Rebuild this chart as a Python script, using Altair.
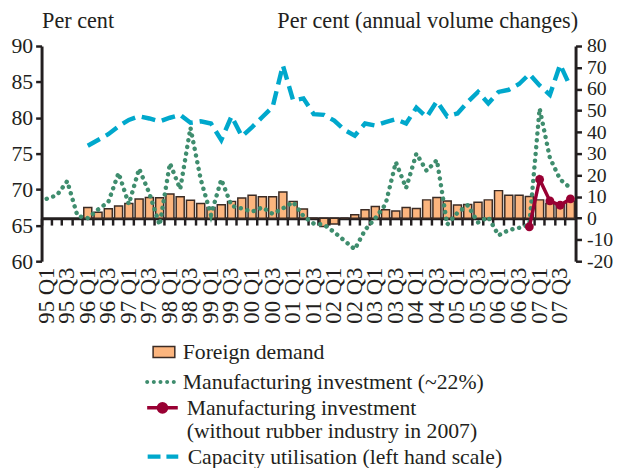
import json
import altair as alt
import pandas as pd

# ---------------- data ----------------
years = ["95", "96", "97", "98", "99", "00", "01", "02", "03", "04", "05", "06", "07"]
quarters = [f"{y} Q{q}" for y in years for q in (1, 2, 3, 4)]
shown_labels = quarters[::2]

# Foreign demand, annual volume change (%), 96 Q1 .. 07 Q4
foreign_demand = [None] * 4 + [
    5.0, 2.8, 4.4, 5.6, 6.8, 8.9, 9.6, 9.5, 11.2, 10.0, 8.3, 6.8,
    5.0, 6.2, 7.8, 9.4, 10.6, 10.0, 10.0, 12.2, 7.8, 4.3, 0.0, -3.9,
    -2.7, 0.0, 1.6, 3.9, 5.4, 3.9, 3.3, 5.0, 4.5, 8.5, 9.6, 8.0,
    6.1, 6.3, 7.4, 8.5, 12.8, 10.6, 10.6, 10.1, 8.5, 6.8, 6.5, 8.0,
]

# Manufacturing investment (~22%), 95 Q1 .. 07 Q4
manufacturing_investment = [
    9.0, 10.7, 17.2, 1.0, 0.0, 4.0, 7.5, 21.0, 6.5, 23.0, 11.5, -3.2,
    25.5, 13.5, 42.0, 18.0, 1.5, 18.0, 5.7, 4.5, 3.0, 5.0, 2.0, 4.5,
    7.5, 1.0, -2.5, -3.0, -6.5, -10.5, -14.5, -5.5, 0.0, 6.5, 26.0, 14.0,
    30.0, 22.0, 27.0, -3.0, 2.5, 6.0, -2.0, 0.5, -8.0, -5.5, -4.5, -3.0,
    51.0, 28.0, 18.0, 14.0,
]

# Manufacturing investment without rubber industry, 06 Q4 .. 07 Q4
investment_ex_rubber = [None] * 47 + [-4.0, 18.0, 8.0, 6.0, 9.0]

# Capacity utilisation (left hand scale), 96 Q1 .. 07 Q4
capacity_utilisation = [None] * 4 + [
    76.1, 76.9, 77.7, 78.8, 79.7, 80.2, 79.9, 79.5, 80.0, 80.4, 79.3, 79.5,
    79.2, 76.9, 80.2, 77.4, 78.7, 80.1, 81.5, 87.3, 82.4, 82.7, 80.5, 80.4,
    79.6, 78.3, 77.5, 79.2, 78.9, 79.4, 79.8, 79.2, 81.4, 80.1, 82.3, 80.2,
    80.6, 82.2, 83.6, 82.0, 83.6, 83.9, 84.7, 86.1, 84.5, 83.2, 87.4, 84.3,
]

left_ticks = [60, 65, 70, 75, 80, 85, 90]
right_ticks = [-20, -10, 0, 10, 20, 30, 40, 50, 60, 70, 80]

S_BAR = "Foreign demand"
S_DOT = "Manufacturing investment (~22%)"
S_RED = "Manufacturing investment (without rubber industry in 2007)"
S_BLUE = "Capacity utilisation (left hand scale)"

df = pd.DataFrame({
    "quarter": quarters,
    "demand": foreign_demand,
    "invest": manufacturing_investment,
    "invest_ex": investment_ex_rubber,
    "capacity": capacity_utilisation,
})

# ---------------- style ----------------
FONT = "Liberation Serif"
INK = "#231f20"
BAR_FILL = "#fcb57e"
BAR_EDGE = "#3b2b24"
GREEN = "#3f8d6e"
RED = "#990033"
BLUE = "#00a8cc"

W, H = 541, 218
ZERO_OFFSET = -H * 20 / 100  # zero of the right scale (-20..80)


def dots_path(centers, r):
    parts = []
    for c in centers:
        parts.append(f"M{c - r:.3f},0a{r},{r} 0 1,0 {2 * r},0a{r},{r} 0 1,0 {-2 * r},0Z")
    return "".join(parts)


legend_common = dict(
    orient="none", title=None, labelFont=FONT, labelFontSize=22,
    labelColor=INK, labelLimit=600,
)

x_zero = alt.X(
    "quarter:N", sort=quarters,
    scale=alt.Scale(paddingInner=0, paddingOuter=0),
    axis=alt.Axis(
        orient="bottom", offset=ZERO_OFFSET, labels=False, title=None,
        domain=True, domainColor=INK, domainWidth=3,
        ticks=True, bandPosition=0, tickSize=7, tickWidth=2.5, tickColor=INK,
        grid=False,
    ),
)

right_scale = alt.Scale(domain=[-20, 80], nice=False, zero=False)
right_axis = alt.Axis(
    orient="right", values=right_ticks, title="Per cent (annual volume changes)",
    titleAngle=0, titleAlign="right", titleBaseline="alphabetic",
    titleX=2, titleY=-19, titleFont=FONT, titleFontSize=22.5,
    titleFontWeight="normal", titleColor=INK,
    labelFont=FONT, labelFontSize=20, labelColor=INK, labelPadding=5,
    labelOverlap=False, labelBound=False, labelExpr="toString(datum.value)",
    tickSize=6, tickWidth=2.5, tickColor=INK,
    domainColor=INK, domainWidth=3, grid=False,
)


def series(name):
    return {"series": json.dumps(name)}


base = alt.Chart(df)

bars = base.mark_bar(
    width=alt.RelativeBandSize(0.78), stroke=BAR_EDGE, strokeWidth=1.5
).encode(
    x=x_zero,
    y=alt.Y("demand:Q", scale=right_scale, axis=right_axis),
    color=alt.Color(
        "series:N", scale=alt.Scale(domain=[S_BAR], range=[BAR_FILL]),
        legend=alt.Legend(
            legendX=112, legendY=298, symbolType="M-1,-0.5L1,-0.5L1,0.5L-1,0.5Z",
            symbolSize=484, symbolStrokeColor=BAR_EDGE, symbolStrokeWidth=1.5,
            symbolFillColor=BAR_FILL, labelOffset=7, **legend_common,
        ),
    ),
).transform_filter("isValid(datum.demand)").transform_calculate(**series(S_BAR))

green = base.mark_line(
    strokeDash=[0.1, 6.8], strokeCap="round", strokeWidth=4.5
).encode(
    x=x_zero,
    y=alt.Y("invest:Q", scale=right_scale, axis=right_axis),
    color=alt.Color(
        "series:N", scale=alt.Scale(domain=[S_DOT], range=[GREEN]),
        legend=alt.Legend(
            legendX=105, legendY=325, symbolType=dots_path([-0.87, -0.435, 0, 0.435, 0.87], 0.13),
            symbolSize=961, symbolFillColor=GREEN, symbolStrokeWidth=0,
            labelOffset=7, **legend_common,
        ),
    ),
).transform_calculate(**series(S_DOT))

red = base.mark_line(
    strokeWidth=3.5, point=alt.OverlayMarkDef(filled=True, size=80)
).encode(
    x=x_zero,
    y=alt.Y("invest_ex:Q", scale=right_scale, axis=right_axis),
    color=alt.Color(
        "series:N", scale=alt.Scale(domain=[S_RED], range=[RED]),
        legend=alt.Legend(
            legendX=105, legendY=349,
            symbolType="M-1,0L1,0M0.27,0A0.27,0.27 0 1,1 -0.27,0A0.27,0.27 0 1,1 0.27,0Z",
            symbolSize=961, symbolFillColor=RED, symbolStrokeColor=RED,
            symbolStrokeWidth=3.5, labelOffset=7,
            labelExpr="[slice(datum.label, 0, 24), slice(datum.label, 25)]",
            **legend_common,
        ),
    ),
).transform_filter("isValid(datum.invest_ex)").transform_calculate(**series(S_RED))

blue = base.mark_line(
    strokeDash=[14, 7], strokeWidth=4.5
).encode(
    x=alt.X(
        "quarter:N", sort=quarters,
        scale=alt.Scale(paddingInner=0, paddingOuter=0),
        axis=alt.Axis(
            orient="bottom", values=shown_labels, labelAngle=-90, title=None,
            labelFont=FONT, labelFontSize=23, labelColor=INK, labelPadding=6,
            labelOverlap=False, ticks=False, tickSize=0, domain=False, grid=False,
        ),
    ),
    y=alt.Y(
        "capacity:Q",
        scale=alt.Scale(domain=[60, 90], nice=False, zero=False),
        axis=alt.Axis(
            orient="left", values=left_ticks, title="Per cent",
            titleAngle=0, titleAlign="left", titleBaseline="alphabetic",
            titleX=0, titleY=-19, titleFont=FONT, titleFontSize=22.5,
            titleFontWeight="normal", titleColor=INK,
            labelFont=FONT, labelFontSize=22, labelColor=INK, labelPadding=3,
            labelOverlap=False,
            tickSize=6, tickWidth=2.5, tickColor=INK,
            domainColor=INK, domainWidth=3, grid=False,
        ),
    ),
    color=alt.Color(
        "series:N", scale=alt.Scale(domain=[S_BLUE], range=[BLUE]),
        legend=alt.Legend(
            legendX=105, legendY=398, symbolType="stroke", symbolSize=961,
            symbolDash=[13, 6], symbolStrokeWidth=4.5, symbolStrokeColor=BLUE,
            labelOffset=7, **legend_common,
        ),
    ),
).transform_filter("isValid(datum.capacity)").transform_calculate(**series(S_BLUE))

right_side = alt.layer(bars, green, red).resolve_scale(color="independent")

chart = (
    alt.layer(right_side, blue)
    .resolve_scale(y="independent", color="independent")
    .resolve_axis(x="independent", y="independent")
    .properties(
        width=W, height=H,
        autosize=alt.AutoSizeParams(type="none"),
        padding={"left": 34, "top": 35.5, "right": 43, "bottom": 206.5},
        background="white",
    )
    .configure_view(stroke=None)
)

chart.save("out.html", embed_options={"renderer": "svg", "actions": False})
